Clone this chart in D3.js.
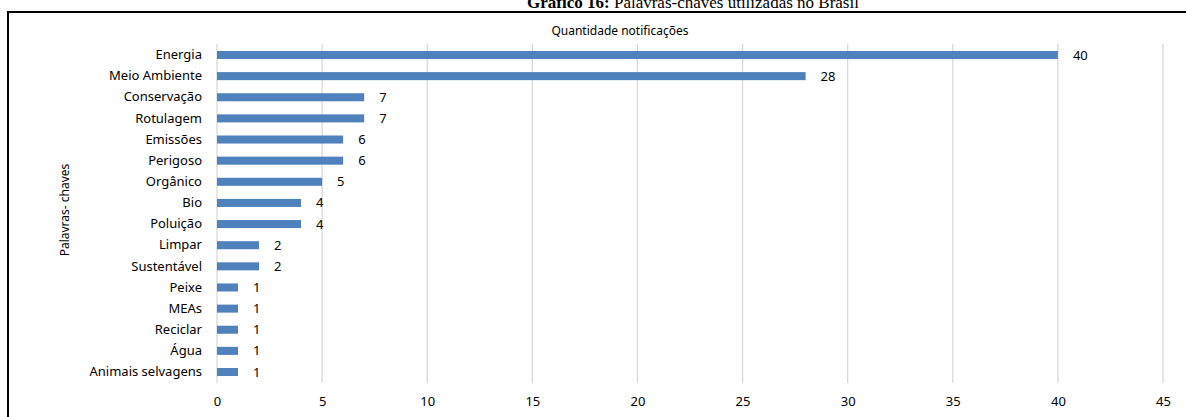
<!DOCTYPE html>
<html lang="pt">
<head>
<meta charset="UTF-8">
<script src="https://d3js.org/d3.v7.min.js"></script>
<style>
  body { margin: 0; background: #fff; }
  svg { display: block; }
</style>
</head>
<body>
<div id="container"></div>
<script>
// dados
var categories = ["Energia", "Meio Ambiente", "Conservação", "Rotulagem", "Emissões", "Perigoso",
                  "Orgânico", "Bio", "Poluição", "Limpar", "Sustentável", "Peixe", "MEAs",
                  "Reciclar", "Água", "Animais selvagens"];
var values = [40, 28, 7, 7, 6, 6, 5, 4, 4, 2, 2, 1, 1, 1, 1, 1];
var xTicks = [0, 5, 10, 15, 20, 25, 30, 35, 40, 45];

var width = 1186, height = 417;
var margin = {left: 217, top: 44, right: 23, bottom: 34};
var chart_width = width - margin.left - margin.right;
var chart_height = height - margin.top - margin.bottom;

var svg = d3.select("#container").append("svg")
    .attr("width", width).attr("height", height);

// moldura
svg.append("path")
    .attr("d", "M8," + height + "V12H" + width)
    .attr("fill", "none").attr("stroke", "#000").attr("stroke-width", 2);

// título (cortado no topo, como no original)
var title = svg.append("text")
    .attr("x", 693).attr("y", 8)
    .attr("text-anchor", "middle")
    .style("font-family", "'Liberation Serif', 'Times New Roman', serif")
    .style("font-size", "17px");
title.append("tspan").attr("font-weight", "bold").text("Gráfico 16:");
title.append("tspan").text(" Palavras-chaves utilizadas no Brasil");

var g = svg.append("g").attr("transform", `translate(${margin.left},${margin.top})`);

var x = d3.scaleLinear().domain([0, 45]).range([0, chart_width]);
var y = d3.scaleBand().domain(categories).range([0, chart_height]).paddingInner(0.62).paddingOuter(0.33);

var font = "'Noto Sans', 'Open Sans', sans-serif";

// grade
g.selectAll("line.grid").data(xTicks).enter().append("line")
    .attr("class", "grid")
    .attr("x1", d => x(d)).attr("x2", d => x(d))
    .attr("y1", 0).attr("y2", chart_height)
    .attr("stroke", "#d9d9d9").attr("stroke-width", 1.3);

// eixo x
var xaxis = d3.axisBottom(x).tickValues(xTicks).tickSize(0).tickPadding(14);
g.append("g").attr("transform", `translate(0,${chart_height})`).call(xaxis)
    .call(a => a.select(".domain").remove())
    .selectAll("text").style("font-family", font).style("font-size", "13px").attr("fill", "#000");

// eixo y
var yaxis = d3.axisLeft(y).tickSize(0).tickPadding(15);
g.append("g").call(yaxis)
    .call(a => a.select(".domain").remove())
    .selectAll("text").style("font-family", font).style("font-size", "13px").attr("fill", "#000");

// barras
g.selectAll("rect.bar").data(values).enter().append("rect")
    .attr("class", "bar")
    .attr("x", x(0))
    .attr("y", (d, i) => y(categories[i]))
    .attr("width", d => x(d) - x(0))
    .attr("height", y.bandwidth())
    .attr("fill", "#4f81bd");

// rótulos
g.selectAll("text.val").data(values).enter().append("text")
    .attr("class", "val")
    .attr("x", d => x(d) + 15)
    .attr("y", (d, i) => y(categories[i]) + y.bandwidth() / 2)
    .attr("dy", "0.35em")
    .style("font-family", font).style("font-size", "13px")
    .text(d => d);

// títulos dos eixos
svg.append("text")
    .attr("x", 620).attr("y", 35)
    .attr("text-anchor", "middle")
    .style("font-family", font).style("font-size", "12px")
    .text("Quantidade notificações");

svg.append("text")
    .attr("transform", "translate(69,210) rotate(-90)")
    .attr("text-anchor", "middle")
    .style("font-family", font).style("font-size", "12px")
    .text("Palavras- chaves");
</script>
</body>
</html>
